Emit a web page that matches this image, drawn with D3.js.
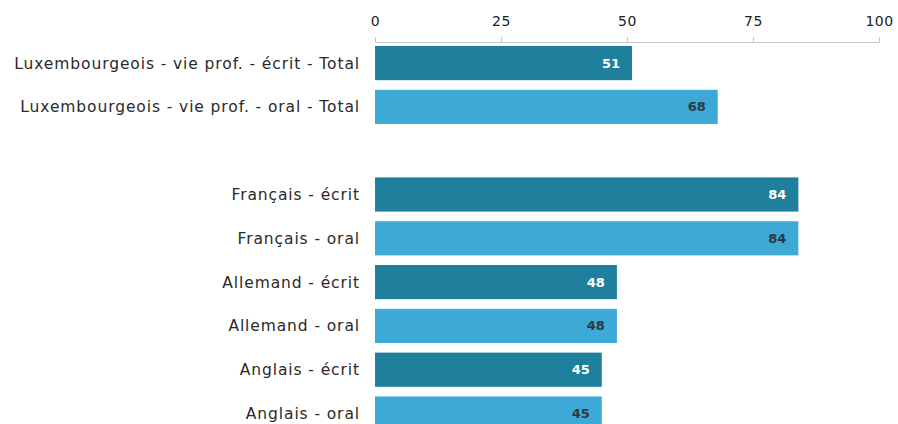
<!DOCTYPE html>
<html>
<head>
<meta charset="utf-8">
<script src="https://cdn.jsdelivr.net/npm/d3@7"></script>
<style>
  html, body { margin: 0; padding: 0; background: #fff; }
  svg { display: block; font-family: "DejaVu Sans", Verdana, sans-serif; }
</style>
</head>
<body>
<svg id="chart" width="898" height="424"></svg>
<script>
// Categories in display order; an empty string leaves a blank row between groups
const categories = [
  "Luxembourgeois - vie prof. - écrit - Total",
  "Luxembourgeois - vie prof. - oral - Total",
  "",
  "Français - écrit",
  "Français - oral",
  "Allemand - écrit",
  "Allemand - oral",
  "Anglais - écrit",
  "Anglais - oral"
];
const values = [51, 68, null, 84, 84, 48, 48, 45, 45];
const kinds = ["écrit", "oral", null, "écrit", "oral", "écrit", "oral", "écrit", "oral"];
const tickValues = [0, 25, 50, 75, 100];

const colors = { "écrit": "#1e809c", "oral": "#3ca9d6" };
const labelColors = { "écrit": "#ffffff", "oral": "#2b3a40" };

const svg = d3.select("#chart");

const x = d3.scaleLinear().domain([0, 100]).range([375, 879]);
const y = d3.scaleBand()
  .domain(d3.range(categories.length))
  .range([41.2, 435.4])
  .paddingInner(0.22)
  .paddingOuter(0.11);

// Top axis
const axis = svg.append("g")
  .attr("transform", "translate(0,42)")
  .call(d3.axisTop(x).tickValues(tickValues).tickSize(5).tickPadding(11));
axis.select(".domain").attr("stroke", "#c8c8c8").attr("stroke-width", 1);
axis.selectAll(".tick line").attr("stroke", "#c8c8c8");
axis.selectAll(".tick text")
  .attr("fill", "#222")
  .style("font-size", "14px")
  .style("letter-spacing", "0.5px")
  .style("font-family", "DejaVu Sans, Verdana, sans-serif");

const rows = categories.map((c, i) => ({ c, v: values[i], k: kinds[i], i }))
  .filter(d => d.v !== null);

// Bars
svg.append("g").selectAll("rect")
  .data(rows)
  .join("rect")
  .attr("x", x(0))
  .attr("y", d => y(d.i))
  .attr("width", d => x(d.v) - x(0))
  .attr("height", y.bandwidth())
  .attr("fill", d => colors[d.k]);

// Category labels
svg.append("g").selectAll("text")
  .data(rows)
  .join("text")
  .attr("x", x(0) - 15)
  .attr("y", d => y(d.i) + y.bandwidth() / 2)
  .attr("dy", "0.35em")
  .attr("text-anchor", "end")
  .attr("fill", "#2a2a2a")
  .style("font-size", "15.5px")
  .style("letter-spacing", "0.9px")
  .text(d => d.c);

// Value labels inside the bars
svg.append("g").selectAll("text")
  .data(rows)
  .join("text")
  .attr("x", d => x(d.v) - 12)
  .attr("y", d => y(d.i) + y.bandwidth() / 2)
  .attr("dy", "0.35em")
  .attr("text-anchor", "end")
  .attr("fill", d => labelColors[d.k])
  .style("font-size", "13px")
  .style("font-weight", "bold")
  .text(d => d.v);
</script>
</body>
</html>
